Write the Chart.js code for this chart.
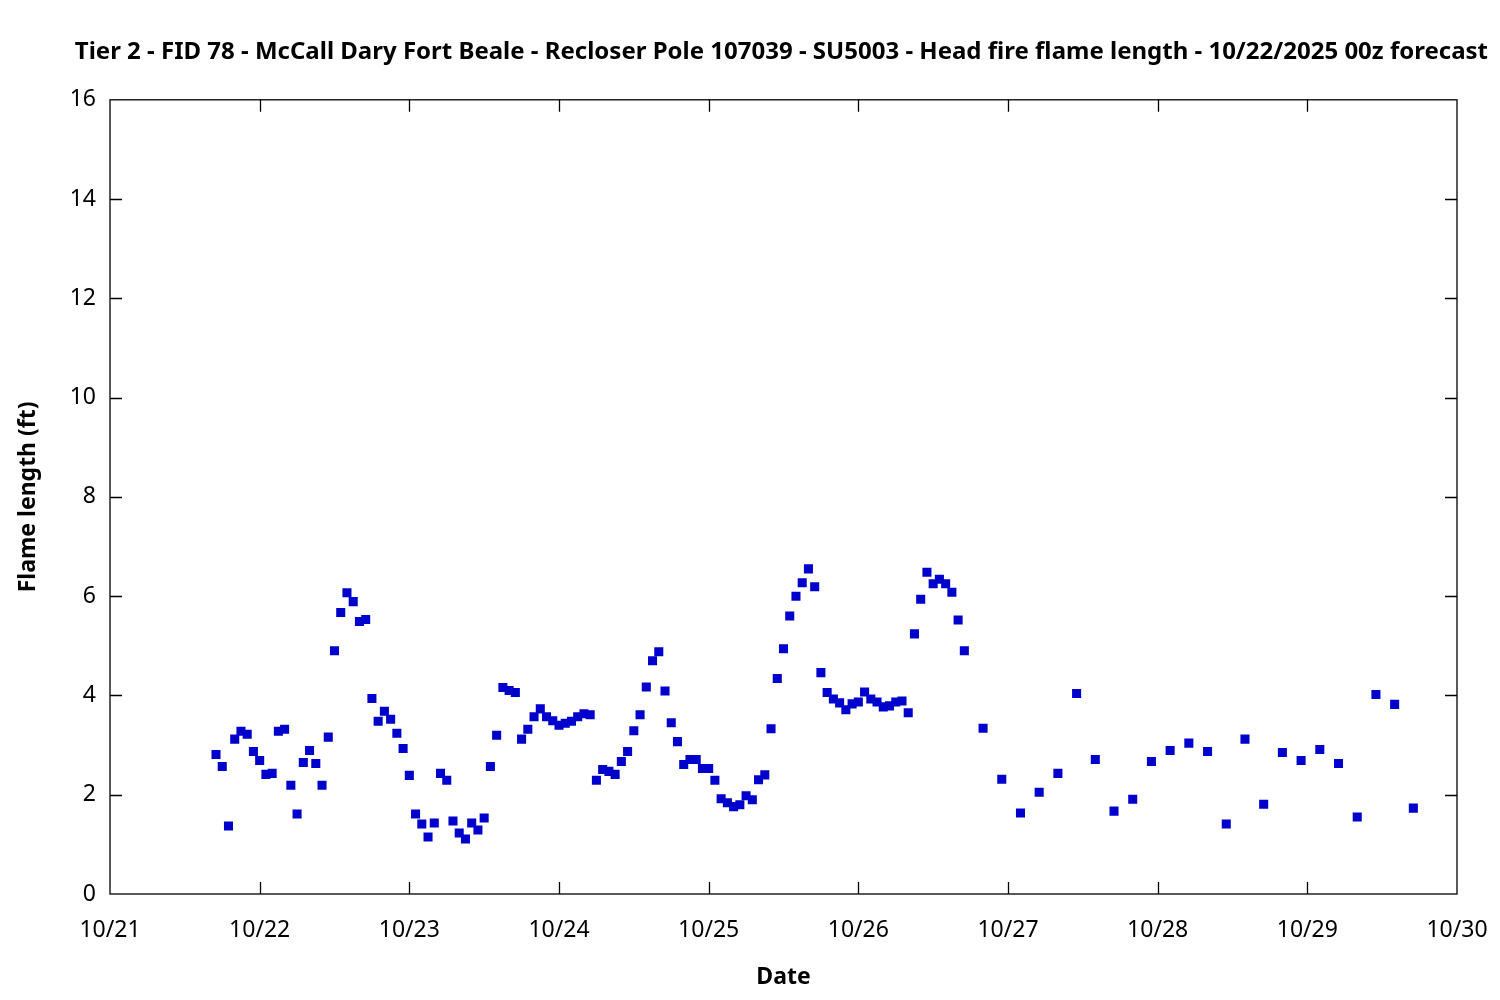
<!DOCTYPE html>
<html>
<head>
<meta charset="utf-8">
<script src="https://cdn.jsdelivr.net/npm/chart.js@4/dist/chart.umd.min.js"></script>
<style>
  body { margin: 0; background: #fff; }
  canvas { display: block; }
</style>
</head>
<body>
<canvas id="myChart" width="1500" height="1000"></canvas>
<script>
// hours since 10/21 00z
var hours = [17, 18, 19, 20, 21, 22, 23, 24, 25, 26, 27, 28, 29, 30, 31, 32, 33, 34, 35, 36,
  37, 38, 39, 40, 41, 42, 43, 44, 45, 46, 47, 48, 49, 50, 51, 52, 53, 54, 55, 56,
  57, 58, 59, 60, 61, 62, 63, 64, 65, 66, 67, 68, 69, 70, 71, 72, 73, 74, 75, 76,
  77, 78, 79, 80, 81, 82, 83, 84, 85, 86, 87, 88, 89, 90, 91, 92, 93, 94, 95, 96,
  97, 98, 99, 100, 101, 102, 103, 104, 105, 106, 107, 108, 109, 110, 111, 112, 113, 114, 115, 116,
  117, 118, 119, 120, 121, 122, 123, 124, 125, 126, 127, 128, 129, 130, 131, 132, 133, 134, 135, 136,
  137, 140, 143, 146, 149, 152, 155, 158, 161, 164, 167, 170, 173, 176, 179, 182, 185, 188, 191, 194,
  197, 200, 203, 206, 209]

// flame length (ft)
var flame = [2.81, 2.57, 1.37, 3.12, 3.28, 3.22, 2.87, 2.69, 2.41, 2.43, 3.28, 3.32, 2.19, 1.61, 2.65, 2.89, 2.63, 2.19, 3.16, 4.90,
  5.67, 6.07, 5.89, 5.49, 5.53, 3.94, 3.48, 3.68, 3.52, 3.24, 2.93, 2.39, 1.61, 1.41, 1.15, 1.43, 2.43, 2.29, 1.47, 1.23,
  1.11, 1.43, 1.29, 1.53, 2.57, 3.20, 4.16, 4.10, 4.06, 3.12, 3.32, 3.57, 3.73, 3.57, 3.49, 3.40, 3.44, 3.48, 3.57, 3.63,
  3.61, 2.29, 2.51, 2.47, 2.41, 2.67, 2.87, 3.29, 3.61, 4.17, 4.70, 4.88, 4.09, 3.45, 3.07, 2.61, 2.71, 2.71, 2.53, 2.53,
  2.29, 1.92, 1.84, 1.76, 1.80, 1.98, 1.90, 2.30, 2.40, 3.33, 4.34, 4.94, 5.60, 6.00, 6.27, 6.55, 6.19, 4.46, 4.06, 3.93,
  3.85, 3.71, 3.83, 3.87, 4.07, 3.93, 3.87, 3.77, 3.79, 3.87, 3.89, 3.65, 5.24, 5.94, 6.48, 6.25, 6.34, 6.25, 6.08, 5.52,
  4.90, 3.34, 2.31, 1.63, 2.05, 2.43, 4.04, 2.71, 1.67, 1.91, 2.67, 2.89, 3.04, 2.87, 1.41, 3.12, 1.81, 2.85, 2.69, 2.91,
  2.63, 1.55, 4.02, 3.82, 1.73]

var dayLabels = ['10/21', '10/22', '10/23', '10/24', '10/25', '10/26', '10/27', '10/28', '10/29', '10/30']
var yTicks = [0, 2, 4, 6, 8, 10, 12, 14, 16]

var titleText = 'Tier 2 - FID 78 - McCall Dary Fort Beale - Recloser Pole 107039 - SU5003 - Head fire flame length - 10/22/2025 00z forecast'

var points = []
for (var i = 0; i < hours.length; i++) {
  points.push({ x: hours[i], y: flame[i] })
}

// gnuplot style border with inward ticks on all four sides
var frame = {
  id: 'frame',
  afterDraw: function(chart) {
    var ctx = chart.ctx
    var a = chart.chartArea
    var xs = chart.scales.x
    var ys = chart.scales.y
    var len = 12
    ctx.save()
    ctx.strokeStyle = '#000'
    ctx.lineWidth = 1.3
    ctx.strokeRect(a.left, a.top, a.right - a.left, a.bottom - a.top)
    ctx.beginPath()
    for (var d = 1; d < dayLabels.length - 1; d++) {
      var px = Math.round(xs.getPixelForValue(d * 24)) + 0.5
      ctx.moveTo(px, a.bottom); ctx.lineTo(px, a.bottom - len)
      ctx.moveTo(px, a.top); ctx.lineTo(px, a.top + len)
    }
    for (var k = 1; k < yTicks.length - 1; k++) {
      var py = Math.round(ys.getPixelForValue(yTicks[k])) + 0.5
      ctx.moveTo(a.left, py); ctx.lineTo(a.left + len, py)
      ctx.moveTo(a.right, py); ctx.lineTo(a.right - len, py)
    }
    ctx.stroke()
    ctx.restore()
  }
}

var ctx = document.getElementById('myChart').getContext('2d')
var chart = new Chart(ctx, {
  type: 'scatter',
  data: {
    datasets: [{
      data: points,
      pointStyle: 'rect',
      pointRadius: 6.4,
      pointHoverRadius: 6.4,
      borderWidth: 0,
      backgroundColor: 'rgb(0, 0, 204)',
      borderColor: 'rgb(0, 0, 204)'
    }]
  },
  options: {
    responsive: false,
    animation: false,
    devicePixelRatio: 1,
    layout: { padding: { left: 0, right: 12, top: 0, bottom: 0 } },
    plugins: {
      legend: { display: false },
      tooltip: { enabled: false },
      title: {
        display: true,
        align: 'end',
        text: titleText,
        color: '#000',
        font: { family: 'Noto Sans', size: 24, weight: 'bold' },
        padding: { top: 38, bottom: 33 }
      }
    },
    scales: {
      x: {
        type: 'linear',
        min: 0,
        max: 216,
        grid: { display: false, drawTicks: false, tickLength: 0 },
        border: { display: false },
        ticks: {
          stepSize: 24,
          autoSkip: false,
          maxRotation: 0,
          padding: 23,
          color: '#000',
          font: { family: 'Noto Sans', size: 23 },
          callback: function(v) { return dayLabels[v / 24] }
        },
        title: {
          display: true,
          text: 'Date',
          color: '#000',
          font: { family: 'Noto Sans', size: 23, weight: 'bold' },
          padding: { top: 4, bottom: 9 }
        },
        afterFit: function(scale) {
          scale.height = 106
          scale.paddingLeft = 0
          scale.paddingRight = 0
        }
      },
      y: {
        min: 0,
        max: 16,
        grid: { display: false, drawTicks: false, tickLength: 0 },
        border: { display: false },
        ticks: {
          stepSize: 2,
          padding: 14,
          color: '#000',
          font: { family: 'Noto Sans', size: 23 }
        },
        title: {
          display: true,
          text: 'Flame length (ft)',
          color: '#000',
          font: { family: 'Noto Sans', size: 23, weight: 'bold' },
          padding: { top: 15, bottom: 0 }
        },
        afterFit: function(scale) {
          scale.width = 110
          scale.paddingTop = 0
          scale.paddingBottom = 0
        }
      },
      // empty right margin so the plot ends where the reference does
      yRight: {
        position: 'right',
        min: 0,
        max: 16,
        grid: { display: false, drawTicks: false },
        border: { display: false },
        ticks: { display: false },
        afterFit: function(scale) {
          scale.width = 31
          scale.paddingTop = 0
          scale.paddingBottom = 0
        }
      }
    }
  },
  plugins: [frame]
})
</script>
</body>
</html>
